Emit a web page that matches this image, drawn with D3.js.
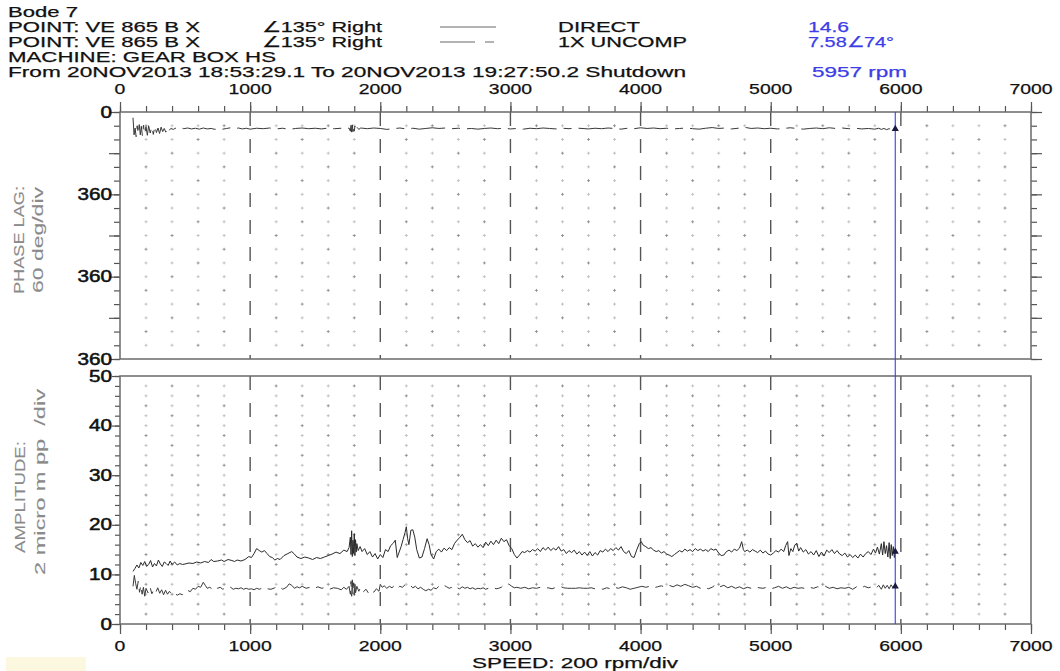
<!DOCTYPE html>
<html>
<head>
<meta charset="utf-8">
<script src="https://d3js.org/d3.v7.min.js"></script>
<style>
  html, body { margin: 0; padding: 0; background: #fff; }
  svg { display: block; font-family: 'Liberation Sans', Arial, sans-serif; }
  text { white-space: pre; }
</style>
</head>
<body>
<svg id="chart" width="1060" height="671"></svg>
<script>
// header / legend text
const title = 'Bode 7'
const pointLabels = ['POINT: VE 865 B X', 'POINT: VE 865 B X']
const orientLabels = ['\u2220135\u00b0 Right', '\u2220135\u00b0 Right']
const seriesNames = ['DIRECT', '1X UNCOMP']
const cursorValues = ['14.6', '7.58\u222074\u00b0']
const machineLabel = 'MACHINE: GEAR BOX HS'
const rangeLabel = 'From 20NOV2013 18:53:29.1 To 20NOV2013 19:27:50.2 Shutdown'
const cursorSpeed = 5957
const cursorLabel = '5957 rpm'

// axes
const speedTicks = [0, 1000, 2000, 3000, 4000, 5000, 6000, 7000]
const phaseTicks = [0, 360, 720, 1080]
const phaseTickLabels = ['0', '360', '360', '360']
const ampTicks = [0, 10, 20, 30, 40, 50]
const xTitle = 'SPEED: 200 rpm/div'
const phaseTitle = ['PHASE LAG:', '60 deg/div']
const ampTitle = ['AMPLITUDE:', '2 micro m pp  /div']

// DIRECT amplitude, [rpm, micro m pp]
const ampDirect = [[100,10.6],[115,11.2],[130,11.9],[145,11.3],[160,12.4],[175,11.8],[190,12.6],[205,11.6],[220,12.0],[235,12.8],[250,11.5],[265,12.2],[280,11.7],[295,12.9],[310,12.1],[325,11.6],[340,12.5],[355,12.2],[370,11.8],[385,12.7],[400,12.0],[420,12.5],[440,11.9],[460,12.2],[480,12.0],[500,12.1],[530,12.3],[560,12.2],[590,12.5],[620,12.3],[650,12.6],[680,12.4],[700,13.0],[720,12.6],[750,12.7],[780,12.9],[800,12.6],[830,13.0],[860,12.8],[880,12.6],[900,12.9],[930,12.7],[960,13.0],[990,13.6],[1010,13.4],[1030,14.2],[1050,15.2],[1070,14.8],[1090,14.5],[1110,14.8],[1130,14.2],[1150,13.6],[1170,13.4],[1190,12.9],[1210,13.2],[1230,13.0],[1260,13.8],[1290,14.2],[1320,14.6],[1340,14.1],[1360,13.5],[1390,13.2],[1420,13.5],[1450,13.3],[1480,13.0],[1510,13.4],[1540,13.2],[1570,13.5],[1600,13.8],[1630,14.1],[1660,14.5],[1690,14.2],[1720,14.9],[1745,14.6],[1760,15.4],[1770,17.5],[1775,14.0],[1780,18.8],[1785,13.6],[1790,16.9],[1795,14.2],[1800,18.2],[1805,13.8],[1810,17.0],[1815,14.5],[1820,16.2],[1830,14.8],[1845,15.6],[1860,14.6],[1880,15.2],[1900,14.0],[1920,14.6],[1940,13.5],[1960,14.2],[1980,13.1],[2000,14.0],[2020,13.4],[2040,15.0],[2060,14.6],[2080,15.8],[2100,16.3],[2115,16.9],[2130,13.4],[2145,14.5],[2160,15.6],[2175,17.0],[2190,18.4],[2200,19.6],[2210,17.2],[2220,16.0],[2235,18.9],[2250,19.0],[2265,17.5],[2280,15.0],[2300,13.3],[2320,13.5],[2340,15.2],[2360,17.2],[2375,16.0],[2390,14.0],[2410,13.1],[2430,14.6],[2450,15.1],[2470,14.5],[2490,15.3],[2510,14.8],[2530,15.4],[2550,15.0],[2570,16.2],[2590,16.9],[2610,17.4],[2630,18.1],[2650,17.0],[2670,16.4],[2690,16.8],[2710,15.7],[2730,16.2],[2750,15.5],[2770,16.0],[2790,15.4],[2810,16.5],[2830,15.8],[2850,16.7],[2870,16.0],[2890,16.9],[2910,16.2],[2930,17.3],[2950,16.6],[2970,17.0],[2990,15.8],[3010,15.2],[3030,14.0],[3050,13.3],[3070,13.9],[3090,14.6],[3110,14.4],[3130,14.8],[3150,14.5],[3170,15.0],[3190,14.7],[3210,15.2],[3230,14.6],[3250,15.4],[3270,14.9],[3290,15.5],[3310,14.8],[3330,15.3],[3350,14.9],[3370,15.6],[3390,14.7],[3410,15.0],[3430,14.2],[3450,14.8],[3470,14.4],[3490,14.9],[3510,14.1],[3530,14.6],[3550,13.9],[3570,14.5],[3590,13.8],[3610,14.6],[3630,13.7],[3650,14.4],[3670,13.9],[3690,14.8],[3710,14.5],[3730,15.1],[3750,14.6],[3770,15.2],[3790,14.8],[3810,15.4],[3830,14.9],[3850,15.6],[3870,14.6],[3890,14.2],[3910,14.8],[3930,13.6],[3950,13.4],[3970,14.9],[3990,16.2],[4005,16.6],[4020,15.9],[4040,15.6],[4060,15.2],[4080,15.4],[4100,14.9],[4120,14.6],[4140,14.8],[4160,14.3],[4180,14.6],[4200,14.1],[4220,13.9],[4240,13.6],[4260,14.0],[4280,14.4],[4300,14.8],[4320,14.5],[4340,15.1],[4360,14.7],[4380,15.0],[4400,14.6],[4420,15.2],[4440,14.8],[4460,15.1],[4480,14.7],[4500,15.0],[4520,14.6],[4540,15.2],[4560,14.9],[4580,15.1],[4600,14.3],[4620,13.8],[4640,13.9],[4660,14.6],[4680,14.9],[4700,14.5],[4720,15.1],[4740,14.8],[4760,15.3],[4777,16.6],[4790,15.0],[4800,14.6],[4820,14.9],[4840,14.5],[4860,15.0],[4880,14.7],[4900,14.4],[4920,14.9],[4940,14.3],[4960,14.7],[4980,14.1],[5000,13.9],[5020,14.3],[5040,14.8],[5060,14.5],[5080,15.1],[5100,14.6],[5115,15.8],[5130,16.6],[5140,13.8],[5155,15.2],[5170,14.6],[5185,15.9],[5200,16.3],[5215,14.7],[5230,15.4],[5250,14.5],[5270,15.0],[5290,14.1],[5310,14.6],[5330,13.9],[5350,14.8],[5370,13.6],[5390,14.5],[5410,13.7],[5430,14.9],[5450,14.4],[5470,15.0],[5490,14.2],[5510,14.8],[5530,14.1],[5550,13.8],[5570,14.3],[5590,13.5],[5610,14.0],[5630,13.4],[5650,13.9],[5670,13.3],[5690,14.1],[5710,13.5],[5730,14.2],[5750,14.6],[5770,14.0],[5790,15.1],[5805,14.3],[5820,15.5],[5835,14.1],[5850,16.2],[5860,13.9],[5870,16.6],[5880,14.2],[5890,15.8],[5900,13.5],[5910,16.4],[5918,13.2],[5926,16.0],[5934,13.8],[5942,15.6],[5950,13.4],[5957,14.6]]

// 1X UNCOMP amplitude, [rpm, micro m pp]
const amp1x = [[100,7.6],[110,9.8],[120,8.2],[130,7.0],[140,8.6],[150,6.4],[160,7.8],[170,6.0],[180,7.4],[190,5.6],[200,7.2],[215,6.3],[230,7.5],[245,6.1],[260,7.0],[275,6.4],[290,7.3],[305,6.2],[320,6.9],[335,5.9],[350,6.8],[365,6.0],[380,6.6],[400,5.9],[420,6.2],[440,5.8],[460,6.1],[480,5.9],[500,6.6],[520,6.8],[540,6.5],[560,7.2],[580,7.0],[600,7.6],[620,7.4],[640,8.4],[655,7.8],[670,7.2],[690,7.4],[710,7.0],[730,7.5],[750,7.2],[770,7.4],[790,7.0],[810,7.3],[830,7.1],[850,7.4],[870,7.0],[890,7.2],[910,7.1],[930,7.3],[950,7.0],[970,7.2],[990,7.0],[1010,7.1],[1030,6.9],[1050,7.2],[1070,7.0],[1090,7.2],[1110,6.9],[1130,7.1],[1160,7.0],[1190,7.3],[1220,7.6],[1250,7.0],[1280,7.4],[1300,8.1],[1320,7.8],[1340,7.2],[1360,7.5],[1380,7.3],[1400,7.6],[1430,7.2],[1460,7.4],[1490,7.1],[1520,7.5],[1550,7.2],[1580,7.4],[1610,7.0],[1640,7.3],[1670,7.2],[1700,6.9],[1720,7.4],[1740,7.0],[1760,7.6],[1770,6.0],[1775,8.6],[1780,5.6],[1785,8.9],[1790,6.1],[1795,8.3],[1800,5.8],[1805,8.0],[1810,6.3],[1820,7.6],[1835,6.6],[1850,7.4],[1870,6.5],[1890,7.0],[1910,6.2],[1930,6.8],[1950,6.4],[1970,7.1],[1990,6.6],[2000,8.0],[2015,7.4],[2030,7.7],[2050,7.2],[2070,7.6],[2090,7.3],[2110,7.8],[2130,7.2],[2150,7.6],[2170,7.4],[2190,7.9],[2210,7.5],[2230,7.8],[2250,7.3],[2270,7.6],[2290,7.1],[2310,7.4],[2330,7.0],[2350,6.7],[2370,7.0],[2390,6.8],[2410,7.3],[2430,7.1],[2450,7.6],[2470,7.4],[2490,7.8],[2510,7.5],[2530,7.2],[2550,7.4],[2570,7.0],[2590,7.3],[2610,7.1],[2630,7.5],[2650,7.2],[2670,7.4],[2690,7.1],[2710,7.3],[2730,7.0],[2750,7.2],[2770,7.1],[2790,7.3],[2810,7.0],[2830,7.2],[2850,7.1],[2870,7.3],[2890,7.1],[2910,7.2],[2930,7.4],[2950,7.9],[2970,8.2],[2990,8.0],[3010,7.6],[3030,7.3],[3050,7.4],[3080,7.2],[3110,7.4],[3140,7.1],[3170,7.3],[3200,7.2],[3230,7.4],[3260,7.2],[3290,7.3],[3320,7.1],[3350,7.4],[3380,7.6],[3410,7.3],[3440,7.2],[3470,7.2],[3500,7.2],[3530,7.3],[3560,7.2],[3590,7.2],[3620,7.3],[3650,7.1],[3680,7.2],[3710,7.0],[3740,7.3],[3770,7.1],[3800,7.4],[3830,7.2],[3860,7.5],[3890,7.3],[3920,7.0],[3950,7.2],[3980,7.4],[4010,7.6],[4040,7.4],[4070,7.6],[4100,7.3],[4130,7.5],[4160,7.7],[4190,7.4],[4220,7.8],[4250,7.5],[4280,7.9],[4310,7.6],[4340,8.0],[4370,7.7],[4400,7.4],[4430,7.6],[4460,7.2],[4490,7.5],[4520,7.1],[4550,7.4],[4580,8.0],[4610,7.5],[4640,7.8],[4670,7.3],[4700,7.6],[4730,7.2],[4760,7.5],[4790,7.1],[4820,7.4],[4850,7.2],[4880,7.5],[4910,7.3],[4940,7.2],[4970,7.4],[5000,7.1],[5030,7.3],[5060,7.6],[5090,7.2],[5120,7.5],[5150,7.1],[5180,7.4],[5210,7.2],[5240,7.3],[5270,7.1],[5300,7.4],[5330,7.2],[5360,7.5],[5390,7.3],[5420,7.6],[5450,7.2],[5480,7.4],[5510,7.1],[5540,7.3],[5570,7.2],[5600,7.4],[5630,7.0],[5660,7.5],[5690,7.2],[5720,7.6],[5750,7.3],[5780,7.5],[5810,7.2],[5830,7.8],[5850,7.0],[5865,7.9],[5880,7.2],[5895,7.8],[5910,7.1],[5925,7.9],[5940,7.3],[5957,7.58]]

// 1X UNCOMP phase lag, [rpm, deg]
const phase1x = [[100,25],[108,100],[116,70],[124,108],[132,60],[140,95],[148,55],[156,100],[164,62],[172,104],[180,58],[190,96],[200,64],[210,102],[220,60],[232,92],[244,66],[256,98],[268,62],[280,90],[292,70],[304,94],[316,66],[328,86],[340,72],[352,88],[364,70],[376,82],[390,72],[410,76],[430,70],[450,74],[470,69],[490,73],[520,70],[550,74],[580,71],[610,75],[640,70],[670,74],[700,72],[730,76],[760,71],[790,75],[820,72],[850,69],[880,73],[910,70],[940,74],[970,71],[1000,75],[1050,71],[1100,73],[1150,70],[1200,74],[1250,71],[1300,76],[1350,72],[1400,70],[1450,73],[1500,71],[1550,74],[1600,70],[1650,73],[1700,71],[1740,74],[1760,70],[1770,84],[1775,58],[1780,88],[1785,56],[1790,86],[1795,60],[1800,84],[1805,62],[1810,80],[1820,66],[1835,76],[1850,70],[1900,73],[1950,70],[2000,72],[2050,76],[2100,73],[2150,70],[2200,74],[2250,71],[2300,75],[2350,72],[2400,69],[2450,72],[2500,70],[2550,73],[2600,71],[2650,74],[2700,72],[2750,75],[2800,72],[2850,70],[2900,73],[2950,71],[3000,74],[3050,72],[3100,75],[3150,71],[3200,73],[3250,70],[3300,72],[3350,74],[3400,71],[3450,73],[3500,70],[3550,72],[3600,74],[3650,71],[3700,73],[3750,70],[3800,72],[3850,75],[3900,71],[3950,73],[4000,69],[4050,72],[4100,70],[4150,73],[4200,71],[4250,74],[4300,72],[4350,70],[4400,73],[4450,75],[4500,71],[4550,68],[4600,72],[4650,70],[4700,74],[4750,71],[4800,67],[4850,72],[4900,70],[4950,73],[5000,71],[5050,74],[5100,72],[5150,69],[5200,72],[5250,75],[5300,72],[5350,70],[5400,73],[5450,69],[5500,72],[5550,70],[5600,73],[5650,71],[5700,74],[5750,72],[5800,75],[5830,71],[5850,76],[5870,72],[5890,77],[5910,73],[5930,76],[5945,72],[5957,74]]

const svg = d3.select('#chart')
const ink = '#111'
const frame = '#6a6a6a'
const blue = '#3d3de6'
const dash1x = '34,7,8,7'

const x = d3.scaleLinear().domain([0, 7000]).range([120, 1031])
const yPhase = d3.scaleLinear().domain([0, 1080]).range([112, 359])
const yAmp = d3.scaleLinear().domain([0, 50]).range([624, 376])

// stretched text, the original printout uses a wide face
function txt (g, px, py, s, w, opt = {}) {
  const fill = opt.fill || ink
  const t = g.append('text')
    .attr('x', px).attr('y', py)
    .attr('font-size', opt.size || 15)
    .attr('fill', fill)
    .attr('stroke', fill).attr('stroke-width', opt.bold || 0.25)
    .attr('text-anchor', opt.anchor || 'start')
    .text(s)
  if (w) t.attr('textLength', w).attr('lengthAdjust', 'spacingAndGlyphs')
  if (opt.rotate) t.attr('transform', `rotate(-90,${px},${py})`)
  return t
}

// pale smudge in the scan, bottom left
svg.append('rect').attr('x', 6).attr('y', 657).attr('width', 80).attr('height', 14)
  .attr('fill', '#fbf8df')

// header
const head = svg.append('g')
txt(head, 8, 17, title, 70)
txt(head, 8, 32, pointLabels[0], 192)
txt(head, 8, 47, pointLabels[1], 192)
txt(head, 262, 32, orientLabels[0], 120)
txt(head, 262, 47, orientLabels[1], 120)
head.append('line').attr('x1', 440).attr('x2', 496).attr('y1', 27).attr('y2', 27)
  .attr('stroke', '#666').attr('stroke-width', 1)
head.append('line').attr('x1', 440).attr('x2', 496).attr('y1', 42).attr('y2', 42)
  .attr('stroke', '#666').attr('stroke-width', 1).attr('stroke-dasharray', '35,10,9')
txt(head, 558, 32, seriesNames[0], 82)
txt(head, 558, 47, seriesNames[1], 129)
txt(head, 808, 32, cursorValues[0], 41, { fill: blue })
txt(head, 808, 47, cursorValues[1], 86, { fill: blue })
txt(head, 8, 62, machineLabel, 268)
txt(head, 8, 77, rangeLabel, 678)
txt(head, 812, 77, cursorLabel, 95, { fill: blue })

// grid crosses and dashed decade lines
const grid = svg.append('g')
const dotCols = d3.range(200, 7000, 200).filter(v => v % 1000 !== 0)
const phaseRows = d3.range(60, 1080, 60)
const ampRows = d3.range(2, 50, 2)
function crosses (rows, yScale) {
  dotCols.forEach((c, ci) => {
    rows.forEach((r, ri) => {
      const cx = x(c), cy = yScale(r)
      const shade = (ci + ri) % 3 === 0 ? '#8e8e8e' : '#bdbdbd'
      grid.append('path')
        .attr('d', `M${cx - 1.5},${cy}H${cx + 1.5}M${cx},${cy - 1.5}V${cy + 1.5}`)
        .attr('stroke', shade).attr('stroke-width', 0.9)
    })
  })
}
crosses(phaseRows, yPhase)
crosses(ampRows, yAmp)
const decades = speedTicks.filter(v => v > 0 && v < 7000)
grid.selectAll('.dp').data(decades).join('line')
  .attr('x1', d => x(d)).attr('x2', d => x(d))
  .attr('y1', yPhase(0)).attr('y2', yPhase(1080))
  .attr('stroke', '#555').attr('stroke-width', 1.4).attr('stroke-dasharray', '14,13')
grid.selectAll('.da').data(decades).join('line')
  .attr('x1', d => x(d)).attr('x2', d => x(d))
  .attr('y1', yAmp(50)).attr('y2', yAmp(0))
  .attr('stroke', '#555').attr('stroke-width', 1.4).attr('stroke-dasharray', '14,13')

// ticks through d3 axes, labels drawn separately
function tickRow (axis, tx, ty) {
  svg.append('g').attr('transform', `translate(${tx},${ty})`)
    .call(axis.tickFormat(''))
    .call(g => g.select('.domain').remove())
    .call(g => g.selectAll('line').attr('stroke', '#555').attr('stroke-width', 1.2))
}
const minorX = d3.range(0, 7001, 200)
tickRow(d3.axisTop(x).tickValues(minorX).tickSize(6), 0, yPhase(0))
tickRow(d3.axisTop(x).tickValues(speedTicks).tickSize(10), 0, yPhase(0))
tickRow(d3.axisBottom(x).tickValues(minorX).tickSize(6), 0, yAmp(0))
tickRow(d3.axisBottom(x).tickValues(speedTicks).tickSize(10), 0, yAmp(0))
tickRow(d3.axisLeft(yPhase).tickValues(d3.range(0, 1081, 60)).tickSize(6), x(0), 0)
tickRow(d3.axisLeft(yPhase).tickValues(d3.range(0, 1081, 180)).tickSize(11), x(0), 0)
tickRow(d3.axisRight(yPhase).tickValues(d3.range(0, 1081, 60)).tickSize(6), x(7000), 0)
tickRow(d3.axisRight(yPhase).tickValues(d3.range(0, 1081, 180)).tickSize(11), x(7000), 0)
tickRow(d3.axisLeft(yAmp).tickValues(d3.range(0, 51, 2)).tickSize(5), x(0), 0)
tickRow(d3.axisLeft(yAmp).tickValues(ampTicks).tickSize(8), x(0), 0)

// panel frames
svg.append('rect').attr('x', x(0)).attr('y', yPhase(0))
  .attr('width', x(7000) - x(0)).attr('height', yPhase(1080) - yPhase(0))
  .attr('fill', 'none').attr('stroke', frame).attr('stroke-width', 1.5)
svg.append('rect').attr('x', x(0)).attr('y', yAmp(50))
  .attr('width', x(7000) - x(0)).attr('height', yAmp(0) - yAmp(50))
  .attr('fill', 'none').attr('stroke', frame).attr('stroke-width', 1.5)

// tick labels
const labels = svg.append('g')
speedTicks.forEach(v => {
  const s = String(v)
  txt(labels, x(v), 94, s, s.length * 10.8, { anchor: 'middle' })
  txt(labels, x(v), 651, s, s.length * 10.8, { anchor: 'middle' })
})
phaseTicks.forEach((v, i) => {
  const s = phaseTickLabels[i]
  txt(labels, 112, yPhase(v) + 5.5, s, s.length * 11.5, { anchor: 'end', size: 16, bold: 0.5 })
})
ampTicks.forEach(v => {
  const s = String(v)
  txt(labels, 112, yAmp(v) + 5.5, s, s.length * 11.5, { anchor: 'end', size: 16, bold: 0.5 })
})
txt(labels, 575, 668, xTitle, 206, { anchor: 'middle' })
const gray = '#8a8a8a'
txt(labels, 24, 240, phaseTitle[0], 108, { anchor: 'middle', rotate: true, fill: gray, bold: 0.1 })
txt(labels, 43, 240, phaseTitle[1], 106, { anchor: 'middle', rotate: true, fill: gray, bold: 0.1 })
txt(labels, 25, 497, ampTitle[0], 112, { anchor: 'middle', rotate: true, fill: gray, bold: 0.1 })
txt(labels, 45, 482, ampTitle[1], 186, { anchor: 'middle', rotate: true, fill: gray, bold: 0.1 })

// data lines
const phaseLine = d3.line().x(d => x(d[0])).y(d => yPhase(d[1]))
const ampLine = d3.line().x(d => x(d[0])).y(d => yAmp(d[1]))
svg.append('path').datum(phase1x).attr('d', phaseLine)
  .attr('fill', 'none').attr('stroke', '#3a3a3a').attr('stroke-width', 1)
  .attr('stroke-dasharray', dash1x)
svg.append('path').datum(amp1x).attr('d', ampLine)
  .attr('fill', 'none').attr('stroke', '#3a3a3a').attr('stroke-width', 1)
  .attr('stroke-dasharray', dash1x)
svg.append('path').datum(ampDirect).attr('d', ampLine)
  .attr('fill', 'none').attr('stroke', '#2a2a2a').attr('stroke-width', 1)

// cursor
svg.append('line')
  .attr('x1', x(cursorSpeed)).attr('x2', x(cursorSpeed))
  .attr('y1', yPhase(0)).attr('y2', yAmp(0))
  .attr('stroke', blue).attr('stroke-width', 1.1)
const marks = [
  yPhase(phase1x[phase1x.length - 1][1]),
  yAmp(ampDirect[ampDirect.length - 1][1]),
  yAmp(amp1x[amp1x.length - 1][1])
]
svg.selectAll('.mk').data(marks).join('path')
  .attr('d', d3.symbol(d3.symbolTriangle, 22))
  .attr('transform', d => `translate(${x(cursorSpeed)},${d})`)
  .attr('fill', '#1a1a40')
</script>
</body>
</html>
